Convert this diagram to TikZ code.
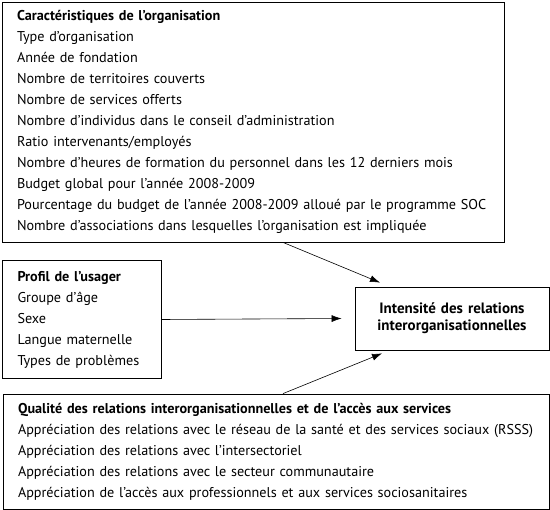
\documentclass[tikz,border=0pt]{standalone}
\usepackage{fontspec}
\setmainfont{PT Sans}
\usetikzlibrary{arrows.meta}
\begin{document}
\begin{tikzpicture}[x=1pt, y=-1pt,
  box/.style={draw, line width=0.8pt, inner xsep=15pt, inner ysep=0pt, align=left, font=\fontsize{14.2}{21}\selectfont},
  >={Latex[length=10pt, width=7pt]}]
\useasboundingbox (0,0) rectangle (550,510);
\node[box, text width=472pt, minimum height=240pt] (org) at (253,122) {\textbf{Caractéristiques de l’organisation}\\
Type d’organisation\\
Année de fondation\\
Nombre de territoires couverts\\
Nombre de services offerts\\
Nombre d’individus dans le conseil d’administration\\
Ratio intervenants/employés\\
Nombre d’heures de formation du personnel dans les 12 derniers mois\\
Budget global pour l’année 2008-2009\\
Pourcentage du budget de l’année 2008-2009 alloué par le programme SOC\\
Nombre d’associations dans lesquelles l’organisation est impliquée};
\node[box, text width=129pt, minimum height=117.6pt] (usager) at (82,319.5) {\textbf{Profil de l’usager}\\
Groupe d’âge\\
Sexe\\
Langue maternelle\\
Types de problèmes};
\node[box, text width=516pt, minimum height=115pt] (qualite) at (276,451.5) {\textbf{Qualité des relations interorganisationnelles et de l’accès aux services}\\
Appréciation des relations avec le réseau de la santé et des services sociaux (RSSS)\\
Appréciation des relations avec l’intersectoriel\\
Appréciation des relations avec le secteur communautaire\\
Appréciation de l’accès aux professionnels et aux services sociosanitaires};
\node[box, align=center, text width=164pt, minimum height=63pt, font=\bfseries\fontsize{15}{17}\selectfont] (intensite) at (452,318.5) {Intensité des relations\\interorganisationnelles};
\draw[->, line width=0.6pt] ([xshift=30pt]org.south) -- ([xshift=-72pt, yshift=4pt]intensite.north);
\draw[->, line width=0.6pt] (usager.east) -- ([xshift=-13pt]intensite.west);
\draw[->, line width=0.6pt] ([xshift=7pt]qualite.north) -- ([xshift=-70pt, yshift=-3pt]intensite.south);
\end{tikzpicture}
\end{document}
